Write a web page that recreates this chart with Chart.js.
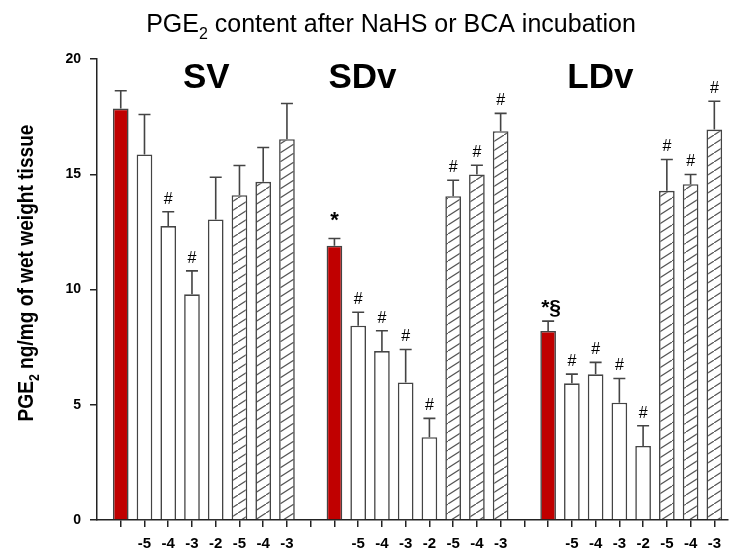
<!DOCTYPE html>
<html>
<head>
<meta charset="utf-8">
<script src="https://cdn.jsdelivr.net/npm/chart.js@4.4.1/dist/chart.umd.min.js"></script>
<style>
  html, body { margin: 0; padding: 0; background: #fff; }
  #wrap { width: 729px; height: 552px; }
</style>
</head>
<body>
<div id="wrap"><canvas id="pge" width="729" height="552"></canvas></div>
<script>
// PGE2 content (ng/mg wet weight tissue) after NaHS or BCA incubation
var groupNames = ['SV', 'SDv', 'LDv'];
var nahsDoses = ['-5', '-4', '-3', '-2'];
var bcaDoses = ['-5', '-4', '-3'];
var yTicks = [0, 5, 10, 15, 20];

// order in each group: control, NaHS -5..-2, BCA -5..-3
var svMean  = [17.85, 15.86, 12.75, 9.79, 13.04, 14.09, 14.67, 16.52];
var svSem   = [0.77, 1.73, 0.62, 1.02, 1.83, 1.29, 1.49, 1.55];
var sdvMean = [11.90, 8.43, 7.33, 5.97, 3.59, 14.05, 14.99, 16.87];
var sdvSem  = [0.31, 0.58, 0.88, 1.43, 0.82, 0.69, 0.40, 0.77];
var ldvMean = [8.20, 5.93, 6.32, 5.09, 3.21, 14.28, 14.57, 16.94];
var ldvSem  = [0.43, 0.40, 0.52, 1.05, 0.88, 1.36, 0.42, 1.23];

var svMarks  = ['', '', '#', '#', '', '', '', ''];
var sdvMarks = ['*', '#', '#', '#', '#', '#', '#', '#'];
var ldvMarks = ['*§', '#', '#', '#', '#', '#', '#', '#'];

var FONT = "'Liberation Sans', Arial, sans-serif";

var canvas = document.getElementById('pge');
var ctx = canvas.getContext('2d');

function makeHatch() {
    var c = document.createElement('canvas');
    c.width = 14;
    c.height = 9;
    var g = c.getContext('2d');
    g.fillStyle = '#fff';
    g.fillRect(0, 0, 14, 9);
    g.strokeStyle = '#555';
    g.lineWidth = 1.2;
    g.beginPath();
    g.moveTo(-1, 9 + 9 / 14);
    g.lineTo(15, -9 / 14);
    g.stroke();
    return ctx.createPattern(c, 'repeat');
}
var hatch = makeHatch();

var means = [svMean, sdvMean, ldvMean];
var sems = [svSem, sdvSem, ldvSem];
var marks = [svMarks, sdvMarks, ldvMarks];
var perGroup = 1 + nahsDoses.length + bcaDoses.length;
var slot = perGroup + 1; // one empty slot between groups

var barData = [], barFill = [], errTop = [], noteText = [], slotLabels = [];
for (var s = 0; s < groupNames.length * slot - 1; s++) slotLabels.push('');

groupNames.forEach(function (name, g) {
    for (var i = 0; i < perGroup; i++) {
        var x = g * slot + i;
        barData.push({ x: x, y: means[g][i] });
        errTop.push(means[g][i] + sems[g][i]);
        noteText.push(marks[g][i]);
        if (i === 0) {
            barFill.push('#c00000');
        } else if (i <= nahsDoses.length) {
            barFill.push('#ffffff');
            slotLabels[x] = nahsDoses[i - 1];
        } else {
            barFill.push(hatch);
            slotLabels[x] = bcaDoses[i - 1 - nahsDoses.length];
        }
    }
});

// draws "PGE" + subscript 2 + rest, starting at x (left), baseline y
function subText(c, before, sub, after, x, y, size, weight) {
    c.font = weight + ' ' + size + 'px ' + FONT;
    var w1 = c.measureText(before).width;
    c.fillText(before, x, y);
    c.font = weight + ' ' + Math.round(size * 0.62) + 'px ' + FONT;
    var w2 = c.measureText(sub).width;
    c.fillText(sub, x + w1, y + size * 0.28);
    c.font = weight + ' ' + size + 'px ' + FONT;
    c.fillText(after, x + w1 + w2, y);
}
function subWidth(c, before, sub, after, size, weight) {
    c.font = weight + ' ' + size + 'px ' + FONT;
    var w = c.measureText(before).width + c.measureText(after).width;
    c.font = weight + ' ' + Math.round(size * 0.62) + 'px ' + FONT;
    return w + c.measureText(sub).width;
}

var errorBars = {
    id: 'errorBars',
    afterDatasetsDraw: function (chart) {
        var c = chart.ctx, xs = chart.scales.x, ys = chart.scales.y;
        c.save();
        c.strokeStyle = '#444';
        c.lineWidth = 1.6;
        barData.forEach(function (p, k) {
            var px = xs.getPixelForValue(p.x);
            var y0 = ys.getPixelForValue(p.y);
            var y1 = ys.getPixelForValue(errTop[k]);
            c.beginPath();
            c.moveTo(px, y0);
            c.lineTo(px, y1);
            c.moveTo(px - 6, y1);
            c.lineTo(px + 6, y1);
            c.stroke();

            var t = noteText[k];
            if (!t) return;
            c.fillStyle = '#000';
            c.textAlign = 'center';
            c.textBaseline = 'alphabetic';
            if (t === '#') {
                c.font = '16px ' + FONT;
                c.fillText(t, px, y1 - 8);
            } else if (t === '*') {
                c.font = 'bold 22px ' + FONT;
                c.fillText(t, px, y1 - 12);
            } else {
                c.font = 'bold 21px ' + FONT;
                c.fillText(t, px + 3, y1 - 7);
            }
        });
        c.restore();
    }
};

var labelsPlugin = {
    id: 'labelsPlugin',
    afterDraw: function (chart) {
        var c = chart.ctx, xs = chart.scales.x;
        c.save();
        c.fillStyle = '#000';
        c.textBaseline = 'alphabetic';
        c.textAlign = 'left';

        // title
        var tw = subWidth(c, 'PGE', '2', ' content after NaHS or BCA incubation', 25, 'normal');
        subText(c, 'PGE', '2', ' content after NaHS or BCA incubation', 391 - tw / 2, 32, 25, 'normal');

        // y axis title (narrow bold)
        var yt = ' ng/mg of wet weight tissue';
        var yw = subWidth(c, 'PGE', '2', yt, 22, 'bold');
        c.save();
        c.translate(25, 273);
        c.rotate(-Math.PI / 2);
        c.scale(297 / yw, 1);
        subText(c, 'PGE', '2', yt, -yw / 2, 8, 22, 'bold');
        c.restore();

        // group names
        var anchors = [3.6, 10.18, 20.2];
        c.font = 'bold 35px ' + FONT;
        c.textAlign = 'center';
        groupNames.forEach(function (n, g) {
            c.fillText(n, xs.getPixelForValue(anchors[g]), 88);
        });
        c.restore();
    }
};

new Chart(canvas, {
    type: 'bar',
    data: {
        datasets: [{
            data: barData,
            backgroundColor: barFill,
            borderColor: '#444',
            borderWidth: 1.6,
            borderSkipped: 'start',
            categoryPercentage: 1,
            barPercentage: 0.66
        }]
    },
    options: {
        responsive: false,
        animation: false,
        layout: { padding: { top: 59, left: 0, right: 0, bottom: 0 } },
        plugins: {
            legend: { display: false },
            tooltip: { enabled: false },
            title: { display: false }
        },
        scales: {
            x: {
                type: 'linear',
                offset: false,
                min: -1,
                max: 25.57,
                grid: { offset: false, drawOnChartArea: false, tickLength: 7, color: '#222', lineWidth: 1.5 },
                border: { color: '#222', width: 1.5 },
                ticks: {
                    autoSkip: false,
                    maxRotation: 0,
                    padding: 8,
                    color: '#000',
                    font: { family: FONT, size: 15, weight: 'bold' },
                    callback: function (v) { return slotLabels[v] || ''; }
                },
                afterBuildTicks: function (sc) {
                    sc.ticks = slotLabels.map(function (l, i) { return { value: i }; });
                },
                afterFit: function (sc) { sc.height = 32; }
            },
            y: {
                min: 0,
                max: 20,
                grid: { drawOnChartArea: false, tickLength: 7, color: '#222', lineWidth: 1.5 },
                border: { color: '#222', width: 1.5 },
                ticks: {
                    padding: 9,
                    color: '#000',
                    font: { family: FONT, size: 14, weight: 'bold' }
                },
                afterBuildTicks: function (sc) {
                    sc.ticks = yTicks.map(function (v) { return { value: v }; });
                },
                afterFit: function (sc) { sc.width = 97; }
            }
        }
    },
    plugins: [errorBars, labelsPlugin]
});
</script>
</body>
</html>
